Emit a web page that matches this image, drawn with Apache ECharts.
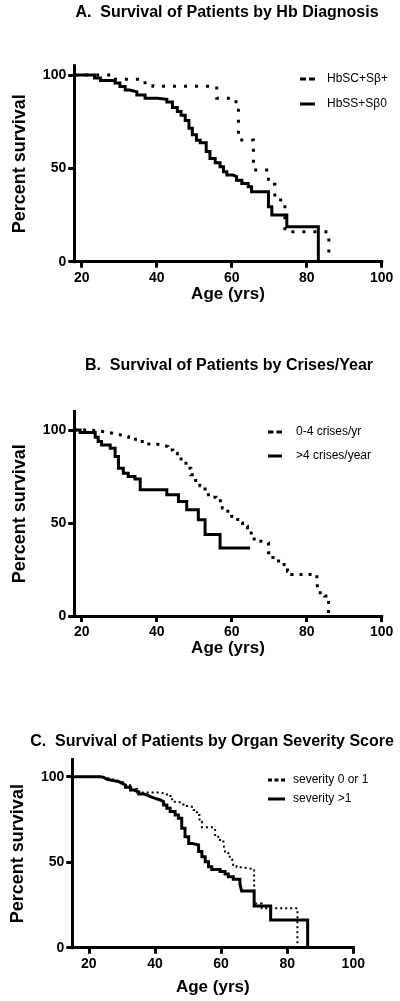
<!DOCTYPE html>
<html><head><meta charset="utf-8">
<script src="https://cdn.jsdelivr.net/npm/echarts@6/dist/echarts.min.js"></script>
<style>html,body{margin:0;padding:0;background:#fff}#c{width:400px;height:1001px}</style>
</head><body><div id="c"></div>
<script>
// ---- tick labels ----
const xTicksAB = [20, 40, 60, 80, 100];
const xTicksC = [20, 40, 60, 80, 100];
const yTicks = [0, 50, 100];

// ---- titles / names ----
const titleA = 'A.  Survival of Patients by Hb Diagnosis';
const titleB = 'B.  Survival of Patients by Crises/Year';
const titleC = 'C.  Survival of Patients by Organ Severity Score';
const xName = 'Age (yrs)';
const yName = 'Percent survival';

// ---- series names ----
const namesA = ['HbSC+Sβ+', 'HbSS+Sβ0'];
const namesB = ['0-4 crises/yr', '>4 crises/year'];
const namesC = ['severity 0 or 1', 'severity >1'];

// ---- Kaplan-Meier data [age, percent survival] ----
const hbscSurv = [[18,100],[29,97.7],[36,95.9],[39,94],[56,87.5],[60.5,85.7],[61.8,65.2],[65.8,49.1],[69.8,41.5],[71.5,33],[73.5,31],[74.2,16],[85.9,0]];
const hbssSurv = [[18,100],[23.4,98.4],[25,97.1],[28.9,95.7],[30.2,93.9],[31.6,92],[32.8,91],[34.7,89.3],[36.9,87.5],[40.2,87],[42.7,85.5],[44.2,82.6],[45.5,80.5],[46.5,78.5],[47.6,75.6],[48.6,71.5],[49.5,68],[50.6,65],[51.6,63.7],[53.2,59],[54.2,55.3],[55.6,53],[56.9,50.9],[57.8,48.2],[58.7,46.4],[60.4,45.5],[61.3,43.7],[62.7,41.9],[64.4,40.2],[65.3,37.5],[69.8,29.4],[70.7,25],[74.7,18.7],[83.1,0]];

const lowCrisesSurv = [[18,100],[22,99.1],[26,98.2],[28.5,97.3],[30.5,96.4],[32.5,95],[35,93.8],[37.5,92.5],[39.5,92],[41.5,91.1],[43,89.3],[44.3,87.5],[45.5,85.7],[46.5,83],[47.8,79.5],[49.1,75.9],[50.4,71.4],[51.5,70],[52.9,65.2],[54.5,63.9],[55.8,62],[57.5,58],[58.5,56.3],[60,53.6],[61.6,50],[62.9,48.2],[64.2,45.5],[65.2,42.9],[66,40.2],[68,39.3],[69.8,34],[71,30.4],[72.5,27.7],[74.9,24.1],[76,22.3],[82.7,17.9],[83.1,12.5],[84.8,10.7],[85.8,0]];
const highCrisesSurv = [[18,100],[19.6,98.6],[23.6,96.1],[24.4,93.8],[25.3,92],[27.6,90.2],[28.9,85.7],[29.8,79.5],[31.1,76.8],[32.4,75],[34.2,73.6],[35.6,67.9],[42.7,65.2],[45.8,61.6],[48,57.1],[51.1,51.8],[52.9,43.8],[56.9,36.6],[64.9,36.6]];

const sevLowSurv = [[15,100],[23.5,99.6],[25,98.5],[27,97.5],[29,96.5],[31,95],[32.8,92.8],[34.6,90.7],[41.6,89.9],[43.6,88.7],[45.2,85.4],[47,84.4],[48.6,82.9],[50.2,82.1],[51.7,80.5],[52.7,77.6],[53.5,73.7],[54.2,70.5],[57.5,69.8],[58.2,64.9],[59.7,63],[60.7,61],[61.2,56.2],[62.2,53.2],[63.2,52.3],[63.7,48.4],[64.7,47],[66.2,46],[70,25.9],[72.3,23],[83.1,0]];
const sevHighSurv = [[15,100],[23.5,99.6],[24.5,98.5],[25.5,97.7],[27.5,97.1],[29.1,96.1],[30.1,95.1],[31.1,93.8],[32.6,92.2],[33.6,91.2],[35.1,89.9],[36.6,89.3],[37.6,88.3],[38.6,87.3],[40.1,86.4],[41.6,85.4],[42.6,83.4],[43.6,81.5],[44.6,79.6],[46.1,77.6],[47.1,75.7],[48.1,69.8],[49.1,64.9],[50.2,61],[51.2,60.1],[53.2,56.2],[54.2,53.2],[55.2,50.3],[56.2,47.4],[57.2,45.8],[59.7,44.5],[61.2,43.1],[62.2,41.5],[63.7,40],[65.7,37.3],[66.2,33.1],[70,24.4],[75,16.2],[86.2,0]];

const FONT = '"Liberation Sans", Arial, Helvetica, sans-serif';

function xAxis(idx, min, ticks, gap) {
  return {
    type: 'value', gridIndex: idx, min: min, max: 100,
    name: xName, nameLocation: 'middle', nameGap: gap,
    nameTextStyle: { fontFamily: FONT, fontWeight: 'bold', fontSize: 17, color: '#000' },
    axisLine: { lineStyle: { color: '#000', width: 3, cap: 'square' } },
    axisTick: { customValues: ticks, length: 6, lineStyle: { color: '#000', width: 3 } },
    axisLabel: { customValues: ticks, fontFamily: FONT, fontWeight: 'bold', fontSize: 14, color: '#000', margin: 9 },
    splitLine: { show: false }
  };
}
function yAxis(idx, max) {
  return {
    type: 'value', gridIndex: idx, min: 0, max: max,
    name: yName, nameLocation: 'middle', nameGap: 45,
    nameTextStyle: { fontFamily: FONT, fontWeight: 'bold', fontSize: 18, color: '#000' },
    axisLine: { show: true, lineStyle: { color: '#000', width: 3, cap: 'square' } },
    axisTick: { show: true, customValues: yTicks, length: 6, lineStyle: { color: '#000', width: 3 } },
    axisLabel: { customValues: yTicks, fontFamily: FONT, fontWeight: 'bold', fontSize: 14, color: '#000', margin: 8 },
    splitLine: { show: false }
  };
}
function km(name, idx, data, dotted, width, dash) {
  return {
    name: name, type: 'line', xAxisIndex: idx, yAxisIndex: idx, step: 'end',
    data: data, symbol: 'none', showSymbol: false, animation: false,
    lineStyle: { color: '#000', width: width, type: dotted ? dash : 'solid', cap: 'butt', join: 'miter' },
    itemStyle: { color: '#000' }
  };
}
const dashIcon2 = 'path://M0,0H6V3H0Z M9,0H15V3H9Z';
const dashIcon3 = 'path://M0,0H4V3H0Z M6.5,0H10.5V3H6.5Z M13,0H17V3H13Z';
function legend(names, left, top, gap, itemW, pad, icon) {
  return {
    orient: 'vertical', left: left, top: top, itemGap: gap, itemWidth: itemW, itemHeight: 3,
    padding: 0, symbolKeepAspect: false,
    data: [
      { name: names[0], icon: icon },
      { name: names[1], icon: 'rect' }
    ],
    textStyle: { fontFamily: FONT, fontSize: 12, color: '#000', padding: [0, 0, 0, pad] }
  };
}
const titleStyle = { fontFamily: FONT, fontWeight: 'bold', fontSize: 16, color: '#000' };

const chart = echarts.init(document.getElementById('c'), null, { renderer: 'canvas' });
chart.setOption({
  backgroundColor: '#fff',
  animation: false,
  title: [
    { text: titleA, left: 227, top: 5, textAlign: 'center', padding: 0, textStyle: titleStyle },
    { text: titleB, left: 229, top: 358, textAlign: 'center', padding: 0, textStyle: titleStyle },
    { text: titleC, left: 212, top: 734, textAlign: 'center', padding: 0, textStyle: titleStyle }
  ],
  grid: [
    { left: 74.2, top: 65.7, width: 307.5, height: 196 },
    { left: 74.2, top: 411.4, width: 307.5, height: 204.6 },
    { left: 72.3, top: 759.6, width: 281, height: 188.1 }
  ],
  xAxis: [xAxis(0, 18, xTicksAB, 24), xAxis(1, 18, xTicksAB, 24), xAxis(2, 15, xTicksC, 31)],
  yAxis: [yAxis(0, 105), yAxis(1, 110), yAxis(2, 110)],
  legend: [
    legend(namesA, 300, 73, 13, 15, 7, dashIcon2),
    legend(namesB, 268, 426, 12, 14, 9, dashIcon2),
    legend(namesC, 268, 774, 7, 17, 3, dashIcon3)
  ],
  series: [
    km(namesA[0], 0, hbscSurv, true, 3, [3, 8]),
    km(namesA[1], 0, hbssSurv, false, 3),
    km(namesB[0], 1, lowCrisesSurv, true, 3, [3, 6]),
    km(namesB[1], 1, highCrisesSurv, false, 3),
    km(namesC[0], 2, sevLowSurv, true, 2, [2, 3]),
    km(namesC[1], 2, sevHighSurv, false, 3)
  ]
});
</script>
</body></html>
